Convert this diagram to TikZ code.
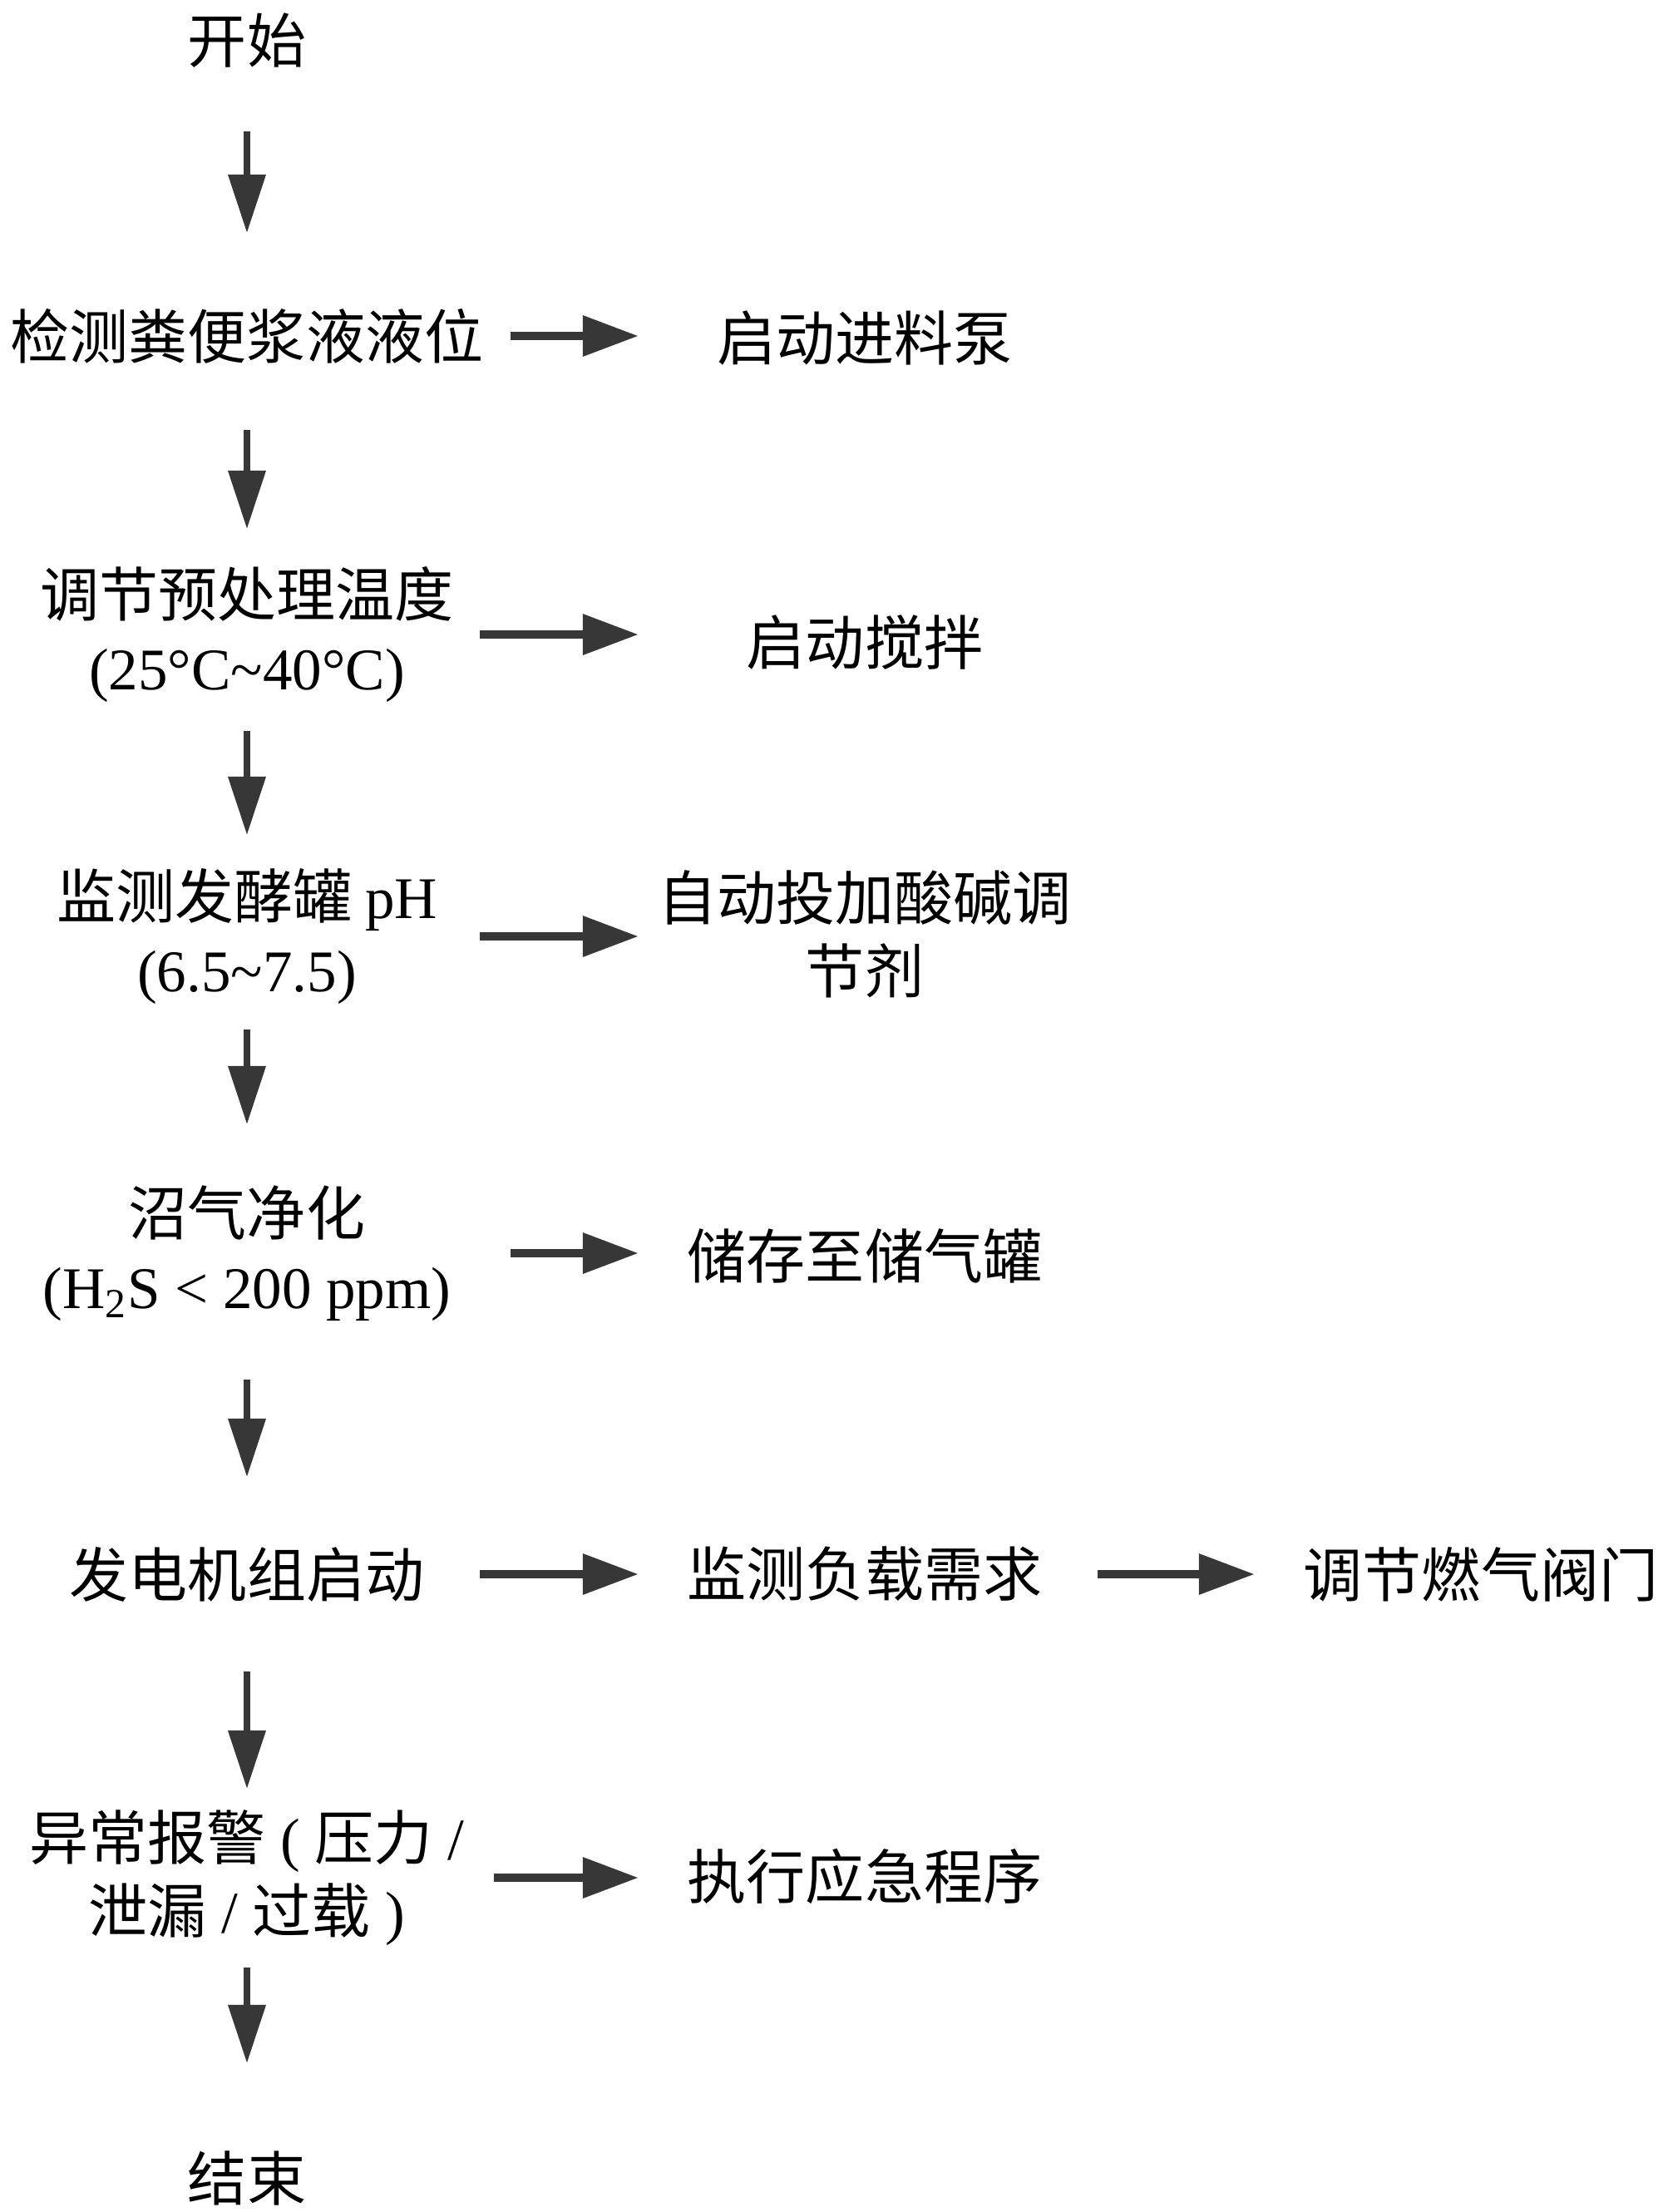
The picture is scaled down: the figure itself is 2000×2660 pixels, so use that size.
\documentclass[tikz,border=0pt]{standalone}
\usepackage{fontspec}
\setmainfont{Liberation Serif}
\newfontfamily\cjk{Noto Sans CJK SC}
\usetikzlibrary{arrows.meta,positioning}
\definecolor{FLOW-GREY}{RGB}{55,55,55}

\begin{document}
\begin{tikzpicture}[x=0.01cm, y=-0.01cm,
    stage/.style={align=center, inner sep=0pt, font=\fontsize{20.2}{25}\selectfont\cjk},
    down/.style={FLOW-GREY, line width=2pt, -{Triangle[length=7mm,width=4.4mm]}},
    across/.style={FLOW-GREY, line width=2.8pt, -{Triangle[length=6.7mm,width=4.7mm]}}]
  \useasboundingbox (0,0) rectangle (2000,2660);

  % Main column
  \node[stage] (start) at (297,49) {开始};
  \node[stage] (n1) at (297,404) {检测粪便浆液液位};
  \node[stage] (n2) at (297,763) {调节预处理温度\\{\rmfamily (25°C\textasciitilde 40°C)}};
  \node[stage] (n3) at (297,1126) {监测发酵罐 {\rmfamily pH}\\{\rmfamily (6.5\textasciitilde 7.5)}};
  \node[stage] (n4) at (297,1507) {沼气净化\\{\rmfamily (H\textsubscript{2}S < 200 ppm)}};
  \node[stage] (n5) at (297,1893) {发电机组启动};
  \node[stage] (n6) at (297,2258) {异常报警{\rmfamily\ (\ }压力{\rmfamily\ /}\\泄漏{\rmfamily\ /\ }过载{\rmfamily\ )}};
  \node[stage] (finish) at (297,2619) {结束};

  % Actions on the right
  \node[stage] (a1) at (1040,407) {启动进料泵};
  \node[stage] (a2) at (1040,772) {启动搅拌};
  \node[stage] (a3) at (1040,1123) {自动投加酸碱调\\节剂};
  \node[stage] (a4) at (1040,1510) {储存至储气罐};
  \node[stage] (a5) at (1040,1893) {监测负载需求};
  \node[stage] (b5) at (1781,1893) {调节燃气阀门};
  \node[stage] (a6) at (1040,2256) {执行应急程序};

  % Downward flow
  \foreach \from/\to/\pre/\post in {start/n1/1.09/1.24, n1/n2/1.13/1.27, n2/n3/1.16/1.22,
      n3/n4/1.12/1.55, n4/n5/1.52/1.17, n5/n6/1.17/1.07, n6/finish/1.08/1.38}
    \draw[down, shorten <=\pre cm, shorten >=\post cm] (\from.center) -- (\to.center);

  % Side actions
  \foreach \from/\to/\pre in {n1/a1/3.17, n2/a2/2.80, n3/a3/2.80, n4/a4/3.17,
      n5/a5/2.80, n6/a6/2.97, a5/b5/2.80}
    \draw[across, shorten <=\pre cm, shorten >=2.72cm] (\from.center) -- (\from.center -| \to.center);
\end{tikzpicture}
\end{document}
